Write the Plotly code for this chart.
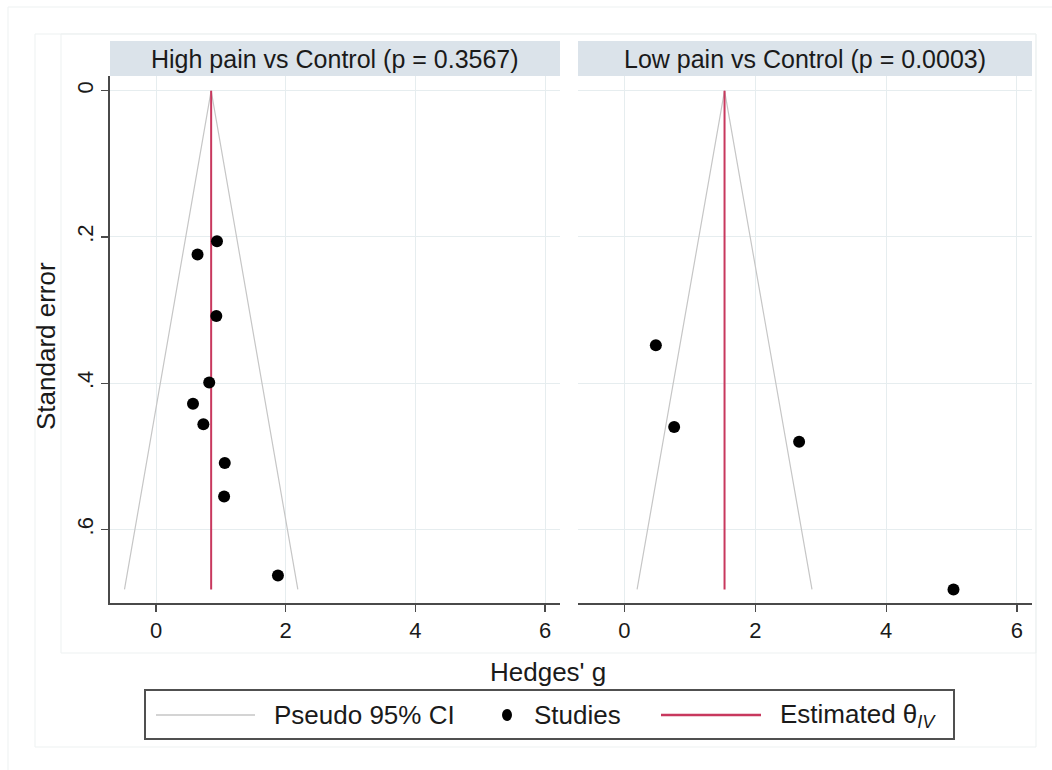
import plotly.graph_objects as go

# ---------------- data ----------------
panels = ["High pain vs Control (p = 0.3567)", "Low pain vs Control (p = 0.0003)"]

high_g = [0.94, 0.64, 0.93, 0.82, 0.57, 0.73, 1.06, 1.05, 1.88]
high_se = [0.206, 0.224, 0.308, 0.399, 0.428, 0.456, 0.509, 0.555, 0.663]

low_g = [0.48, 0.76, 2.67, 5.03]
low_se = [0.348, 0.460, 0.480, 0.682]

theta = [0.85, 1.53]          # estimated theta_IV per panel
z95 = 1.96

x_tickvals = [0, 2, 4, 6]
x_ticktext = ["0", "2", "4", "6"]
y_tickvals = [0, 0.2, 0.4, 0.6]
y_ticktext = ["0", ".2", ".4", ".6"]

# ---------------- styling ----------------
W, H = 1052, 770
FONT = "Liberation Sans, Arial, Helvetica, sans-serif"
TXT = "#1a1a1a"
GRID = "#e6edef"
AXIS = "#4a4a4a"
CI_COL = "#c6c6c6"
EST_COL = "#c8385e"
STRIP = "#dbe3ea"
FRAME = "#edf1f1"


def px(x):
    return x / W


def py(y):
    return 1 - y / H


se_max = max(high_se + low_se)

fig = go.Figure()

series = [(high_g, high_se), (low_g, low_se)]
for i, (g, se) in enumerate(series):
    xa = "x" if i == 0 else "x2"
    ya = "y" if i == 0 else "y2"
    th = theta[i]
    # pseudo 95% CI funnel
    fig.add_trace(go.Scatter(
        x=[th - z95 * se_max, th, th + z95 * se_max],
        y=[se_max, 0, se_max],
        mode="lines", line=dict(color=CI_COL, width=1.2),
        xaxis=xa, yaxis=ya, showlegend=False, hoverinfo="skip"))
    # estimated theta
    fig.add_trace(go.Scatter(
        x=[th, th], y=[0, se_max], mode="lines",
        line=dict(color=EST_COL, width=2),
        xaxis=xa, yaxis=ya, showlegend=False, hoverinfo="skip"))
    # studies
    fig.add_trace(go.Scatter(
        x=g, y=se, mode="markers",
        marker=dict(color="black", size=12, symbol="circle"),
        xaxis=xa, yaxis=ya, showlegend=False))

xrange = [-0.71, 6.23]
yrange = [0.7005, -0.0201]
ydom = [py(603), py(76)]

xcommon = dict(range=xrange, tickvals=x_tickvals, ticktext=x_ticktext,
               showgrid=True, gridcolor=GRID, gridwidth=1, zeroline=False,
               showline=True, linecolor=AXIS, linewidth=1.6,
               ticks="outside", ticklen=7, tickwidth=1.2, tickcolor=AXIS,
               tickfont=dict(family=FONT, size=22, color=TXT), fixedrange=True)

fig.update_layout(
    width=W, height=H,
    margin=dict(l=0, r=0, t=0, b=0),
    paper_bgcolor="white", plot_bgcolor="white",
    showlegend=False,
    xaxis=dict(domain=[px(110), px(560)], anchor="y", **xcommon),
    xaxis2=dict(domain=[px(578), px(1032)], anchor="y2", **xcommon),
    yaxis=dict(domain=ydom, anchor="x", range=yrange,
               tickvals=y_tickvals, ticktext=y_ticktext, tickangle=-90,
               showgrid=True, gridcolor=GRID, gridwidth=1, zeroline=False,
               showline=True, linecolor=AXIS, linewidth=1.6,
               ticks="outside", ticklen=7, tickwidth=1.2, tickcolor=AXIS,
               tickfont=dict(family=FONT, size=22, color=TXT), fixedrange=True),
    yaxis2=dict(domain=ydom, anchor="x2", range=yrange,
                tickvals=y_tickvals, showticklabels=False,
                showgrid=True, gridcolor=GRID, gridwidth=1, zeroline=False,
                showline=False, ticks="", fixedrange=True),
)

shapes = []
# faint frames (graph regions)
shapes.append(dict(type="line", xref="paper", yref="paper",
                   x0=px(8), x1=px(8), y0=py(7), y1=py(770),
                   line=dict(color=FRAME, width=1)))
shapes.append(dict(type="line", xref="paper", yref="paper",
                   x0=px(8), x1=px(1052), y0=py(7), y1=py(7),
                   line=dict(color=FRAME, width=1)))
shapes.append(dict(type="rect", xref="paper", yref="paper",
                   x0=px(35), x1=px(1036), y0=py(747), y1=py(34),
                   line=dict(color=FRAME, width=1)))
shapes.append(dict(type="rect", xref="paper", yref="paper",
                   x0=px(61), x1=px(1036), y0=py(653), y1=py(34),
                   line=dict(color=FRAME, width=1)))
# strips
for (x0, x1) in [(110, 560), (578, 1032)]:
    shapes.append(dict(type="rect", xref="paper", yref="paper",
                       x0=px(x0), x1=px(x1), y0=py(76), y1=py(41),
                       fillcolor=STRIP, line=dict(width=0), layer="below"))
# legend box
shapes.append(dict(type="rect", xref="paper", yref="paper",
                   x0=px(145), x1=px(954), y0=py(739), y1=py(690),
                   line=dict(color="#505050", width=2)))
shapes.append(dict(type="line", xref="paper", yref="paper",
                   x0=px(156), x1=px(255), y0=py(715), y1=py(715),
                   line=dict(color=CI_COL, width=1.5)))
shapes.append(dict(type="circle", xref="paper", yref="paper",
                   x0=px(502), x1=px(512), y0=py(721), y1=py(709),
                   fillcolor="black", line=dict(color="black", width=0)))
shapes.append(dict(type="line", xref="paper", yref="paper",
                   x0=px(661), x1=px(761), y0=py(715), y1=py(715),
                   line=dict(color=EST_COL, width=2.5)))

annotations = []
for title, cx in zip(panels, [335, 805]):
    annotations.append(dict(text=title, xref="paper", yref="paper",
                            x=px(cx), y=py(59), xanchor="center", yanchor="middle",
                            showarrow=False, font=dict(family=FONT, size=25, color=TXT)))
annotations.append(dict(text="Hedges' g", xref="paper", yref="paper",
                        x=px(548), y=py(672), xanchor="center", yanchor="middle",
                        showarrow=False, font=dict(family=FONT, size=26, color=TXT)))
annotations.append(dict(text="Standard error", xref="paper", yref="paper",
                        x=px(46), y=py(346), xanchor="center", yanchor="middle",
                        textangle=-90,
                        showarrow=False, font=dict(family=FONT, size=26, color=TXT)))
for txt, lx in [("Pseudo 95% CI", 272), ("Studies", 532),
                ("Estimated θ<sub><i>IV</i></sub>", 778)]:
    annotations.append(dict(text=txt, xref="paper", yref="paper",
                            x=px(lx), y=py(715), xanchor="left", yanchor="middle",
                            showarrow=False, font=dict(family=FONT, size=26, color=TXT)))

fig.update_layout(shapes=shapes, annotations=annotations)

fig.write_html("out.html", config={"displayModeBar": False, "staticPlot": True},
               post_script="document.body.style.margin='0';document.body.style.overflow='hidden';")
